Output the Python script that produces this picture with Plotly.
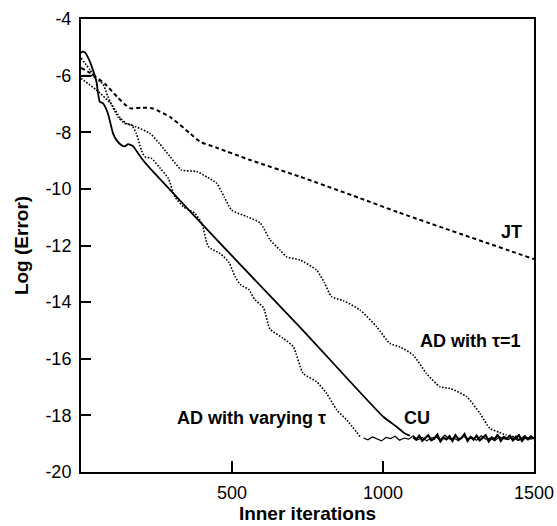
import plotly.graph_objects as go

# ---------------- data ----------------
jt_x = [0, 30, 80, 120, 162, 200, 238, 300, 361, 394, 450, 560, 725, 924, 1051, 1500]
jt_y = [-5.73, -5.9, -6.3, -6.75, -7.15, -7.13, -7.16, -7.5, -8.04, -8.33, -8.55, -8.98, -9.57, -10.33, -10.83, -12.48]

ad1_x = [0, 50, 100, 130, 151, 180, 228, 260, 295, 333, 383, 420, 449, 475, 499, 549, 593, 626, 659, 681,
         725, 780, 805, 830, 869, 924, 979, 1023, 1056, 1100, 1144, 1189, 1222, 1277, 1321, 1354, 1385, 1409]
ad1_y = [-6.1, -6.5, -7.0, -7.5, -7.69, -7.8, -8.04, -8.4, -8.86, -9.33, -9.39, -9.6, -9.8, -10.3, -10.75, -10.98, -11.2, -11.8, -12.16, -12.4,
         -12.51, -12.87, -13.3, -13.81, -13.95, -14.28, -14.87, -15.46, -15.58, -15.87, -16.52, -16.99, -17.05, -17.34, -17.93, -18.46, -18.6, -18.7]
ad1_floor_x = [1420, 1430, 1440, 1450, 1460, 1470, 1480, 1490, 1500]
ad1_floor_y = [-18.78, -18.85, -18.74, -18.88, -18.8, -18.72, -18.86, -18.78, -18.82]

adv_x = [0, 30, 51, 62, 73, 89, 122, 145, 167, 183, 200, 211, 233, 262, 289, 311, 339, 377, 400, 422,
         460, 490, 510, 530, 555, 575, 604, 626, 670, 703, 736, 780, 813, 847, 880, 924]
adv_y = [-5.38, -5.8, -6.15, -6.2, -6.3, -6.74, -7.45, -7.69, -7.74, -8.04, -8.63, -8.86, -8.92, -9.27, -9.63, -10.28, -10.63, -10.86, -11.22, -12.04,
         -12.28, -12.6, -13.1, -13.4, -13.55, -13.9, -14.2, -14.95, -15.28, -15.58, -16.52, -16.81, -17.22, -17.81, -18.16, -18.75]
adv_floor_x = [935, 950, 965, 980, 995, 1010, 1025, 1040, 1055, 1070, 1085, 1100, 1115, 1130, 1145, 1160,
               1175, 1190, 1205, 1220, 1235, 1250, 1265, 1280, 1295, 1310, 1325, 1340, 1355, 1370,
               1385, 1400, 1415, 1430, 1445, 1460, 1475, 1490, 1500]
adv_floor_y = [-18.8, -18.86, -18.76, -18.84, -18.9, -18.78, -18.82, -18.74, -18.88, -18.8, -18.84, -18.72, -18.86, -18.78, -18.9, -18.8,
               -18.76, -18.86, -18.7, -18.84, -18.8, -18.9, -18.74, -18.82, -18.78, -18.88, -18.72, -18.84, -18.8, -18.9,
               -18.76, -18.82, -18.86, -18.74, -18.88, -18.8, -18.78, -18.84, -18.8]

cu_x = [0, 5, 14, 25, 34, 51, 62, 73, 89, 106, 117, 133, 145, 156, 172, 189, 205, 228, 482, 560, 731, 1001, 1045, 1070, 1089]
cu_y = [-5.2, -5.15, -5.19, -5.4, -5.63, -6.21, -6.92, -6.98, -7.33, -8.04, -8.27, -8.45, -8.5, -8.42, -8.49, -8.74, -8.98, -9.27, -12.16, -13.04, -14.95, -18.05, -18.4, -18.62, -18.72]
cu_start_x = [0, 38]
cu_start_y = [-6.0, -6.0]
cu_floor_x = list(range(1100, 1501, 10))
cu_floor_y = [-18.78, -18.86, -18.72, -18.9, -18.8, -18.7, -18.88, -18.82, -18.68, -18.92, -18.78, -18.85, -18.74, -18.9,
              -18.7, -18.84, -18.8, -18.66, -18.9, -18.76, -18.86, -18.72, -18.88, -18.8, -18.7, -18.92, -18.78, -18.84,
              -18.68, -18.9, -18.76, -18.82, -18.72, -18.88, -18.8, -18.7, -18.9, -18.78, -18.84, -18.74, -18.82]

x_ticks = [500, 1000, 1500]
y_ticks = [-20, -18, -16, -14, -12, -10, -8, -6, -4]

labels = [
    ("JT", 1427, -11.52),
    ("AD with τ=1", 1291, -15.37),
    ("CU", 1112, -18.09),
    ("AD with varying τ", 566, -18.09),
]

# ---------------- figure ----------------
FONT = "Liberation Sans, Arial, Helvetica, sans-serif"
dotted = dict(color="black", width=1.6, dash="1.6px,1.6px")

fig = go.Figure()
fig.add_trace(go.Scatter(x=jt_x, y=jt_y, mode="lines", line=dict(color="black", width=2, dash="4px,3px", shape="spline", smoothing=0.6)))
fig.add_trace(go.Scatter(x=ad1_x, y=ad1_y, mode="lines", line=dict(dotted, shape="spline", smoothing=0.6)))
fig.add_trace(go.Scatter(x=ad1_floor_x, y=ad1_floor_y, mode="lines", line=dict(color="black", width=1.4)))
fig.add_trace(go.Scatter(x=adv_x, y=adv_y, mode="lines", line=dict(dotted, shape="spline", smoothing=0.6)))
fig.add_trace(go.Scatter(x=adv_floor_x, y=adv_floor_y, mode="lines", line=dict(color="black", width=1.2)))
fig.add_trace(go.Scatter(x=cu_x, y=cu_y, mode="lines", line=dict(color="black", width=1.8, shape="spline", smoothing=0.5)))
fig.add_trace(go.Scatter(x=cu_start_x, y=cu_start_y, mode="lines", line=dict(color="black", width=1.5)))
fig.add_trace(go.Scatter(x=cu_floor_x, y=cu_floor_y, mode="lines", line=dict(color="black", width=2.2)))

for text, x, y in labels:
    fig.add_annotation(x=x, y=y, text="<b>%s</b>" % text, showarrow=False,
                       font=dict(family=FONT, size=18, color="black"), xanchor="center", yanchor="middle")

fig.update_layout(
    width=557, height=526,
    margin=dict(l=81, r=23, t=19, b=54, autoexpand=False),
    paper_bgcolor="white", plot_bgcolor="white",
    showlegend=False,
    font=dict(family=FONT, color="black"),
)
fig.update_xaxes(
    range=[0, 1500], tickvals=x_ticks, ticktext=[str(v) for v in x_ticks],
    ticks="inside", ticklen=11, tickwidth=2, tickcolor="black",
    showline=True, linewidth=2, linecolor="black", mirror=True,
    showgrid=False, zeroline=False, ticklabelstandoff=3, automargin=False,
    tickfont=dict(family=FONT, size=18, color="black"),
    title=dict(text="<b>Inner iterations</b>", font=dict(family=FONT, size=19, color="black"), standoff=4),
)
fig.update_yaxes(
    range=[-20, -4], tickvals=y_ticks, ticktext=[str(v) for v in y_ticks],
    ticks="inside", ticklen=10, tickwidth=2, tickcolor="black",
    showline=True, linewidth=2, linecolor="black", mirror=True,
    showgrid=False, zeroline=False, ticklabelstandoff=4, automargin=False,
    tickfont=dict(family=FONT, size=18, color="black"),
    title=dict(text="<b>Log (Error)</b>", font=dict(family=FONT, size=19, color="black"), standoff=12),
)

fig.write_html("out.html")
